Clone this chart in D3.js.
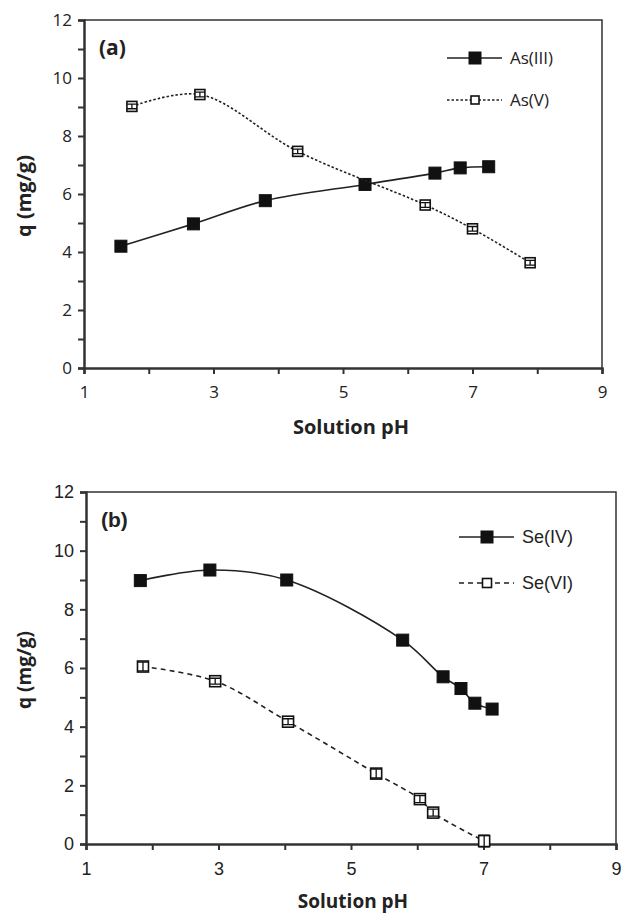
<!DOCTYPE html>
<html>
<head>
<meta charset="utf-8">
<script src="https://cdn.jsdelivr.net/npm/d3@7"></script>
<style>
  body { margin: 0; background: #fff; }
  svg { display: block; }
</style>
</head>
<body>
<div id="chart"></div>
<script>
// Panel (a) - arsenic
const phAs3 = [1.57, 2.69, 3.80, 5.34, 6.42, 6.81, 7.25];
const qAs3 = [4.20, 4.97, 5.77, 6.33, 6.72, 6.90, 6.94];
const phAs5 = [1.74, 2.79, 4.30, 6.27, 7.00, 7.89];
const qAs5 = [9.02, 9.43, 7.47, 5.62, 4.80, 3.63];
const errAs5 = [0.08, 0.08, 0.08, 0.08, 0.08, 0.08];

// Panel (b) - selenium
const phSe4 = [1.82, 2.87, 4.03, 5.78, 6.39, 6.66, 6.87, 7.13];
const qSe4 = [8.98, 9.34, 9.00, 6.95, 5.70, 5.30, 4.80, 4.60];
const phSe6 = [1.86, 2.95, 4.05, 5.38, 6.04, 6.24, 7.01];
const qSe6 = [6.05, 5.55, 4.17, 2.40, 1.53, 1.07, 0.10];
const errSe6 = [0.15, 0.10, 0.10, 0.15, 0.12, 0.12, 0.20];

const xTicks = [1, 2, 3, 4, 5, 6, 7, 8, 9];
const yTicks = [0, 1, 2, 3, 4, 5, 6, 7, 8, 9, 10, 11, 12];

const svg = d3.select('#chart').append('svg')
  .attr('width', 622)
  .attr('height', 916);

const panels = [
  {
    label: '(a)', top: 20, bottom: 368, left: 84, right: 602,
    font: '"Open Sans", "Noto Sans", sans-serif', tickSize: 17,
    xTitleX: 351, xTitleY: 434, yTitleY: 196, titleSize: 20,
    series: [
      { name: 'As(III)', x: phAs3, y: qAs3, filled: true, dash: null, size: 12 },
      { name: 'As(V)', x: phAs5, y: qAs5, err: errAs5, filled: false, dash: '2.5,2', size: 10 }
    ],
    legendX: 447, legendY: [58, 100]
  },
  {
    label: '(b)', top: 492, bottom: 844, left: 86, right: 616,
    font: '"Liberation Sans", Arial, sans-serif', tickSize: 18,
    xTitleX: 353, xTitleY: 908, yTitleY: 670, titleSize: 19,
    series: [
      { name: 'Se(IV)', x: phSe4, y: qSe4, filled: true, dash: null, size: 12 },
      { name: 'Se(VI)', x: phSe6, y: qSe6, err: errSe6, filled: false, dash: '5,4', size: 11 }
    ],
    legendX: 459, legendY: [537, 583]
  }
];

panels.forEach(p => {
  const g = svg.append('g');

  const x = d3.scaleLinear().domain([1, 9]).range([p.left, p.right]);
  const y = d3.scaleLinear().domain([0, 12]).range([p.bottom, p.top]);

  // frame (top + right)
  g.append('path')
    .attr('d', `M${p.left},${p.top}H${p.right}V${p.bottom}`)
    .attr('fill', 'none')
    .attr('stroke', '#333')
    .attr('stroke-width', 1.5);

  // axes
  const yAxis = g.append('g')
    .attr('transform', `translate(${p.left},0)`)
    .call(d3.axisLeft(y).tickValues(yTicks).tickSizeOuter(0).tickSize(6).tickPadding(6)
      .tickFormat(d => d % 2 === 0 ? d : ''));
  const xAxis = g.append('g')
    .attr('transform', `translate(0,${p.bottom})`)
    .call(d3.axisBottom(x).tickValues(xTicks).tickSizeOuter(0).tickSize(6).tickPadding(12)
      .tickFormat(d => d % 2 === 1 ? d : ''));

  [yAxis, xAxis].forEach(ax => {
    ax.select('.domain').attr('stroke', '#333').attr('stroke-width', 2.5);
    ax.selectAll('.tick line').attr('stroke', '#333').attr('stroke-width', 2);
    ax.selectAll('.tick text')
      .attr('fill', '#222')
      .style('font-family', p.font)
      .style('font-size', p.tickSize + 'px');
  });

  // axis titles
  g.append('text')
    .attr('transform', `translate(31,${p.yTitleY}) rotate(-90)`)
    .attr('text-anchor', 'middle')
    .style('font-family', '"Open Sans", sans-serif')
    .style('font-weight', 'bold')
    .style('font-size', p.titleSize + 'px')
    .attr('fill', '#222')
    .text('q (mg/g)');

  g.append('text')
    .attr('x', p.xTitleX)
    .attr('y', p.xTitleY)
    .attr('text-anchor', 'middle')
    .style('font-family', '"Open Sans", sans-serif')
    .style('font-weight', 'bold')
    .style('font-size', p.titleSize + 'px')
    .attr('fill', '#222')
    .text('Solution pH');

  // panel label
  g.append('text')
    .attr('x', p.left + 15)
    .attr('y', p.top + 35)
    .style('font-family', p.font)
    .style('font-weight', 'bold')
    .style('font-size', '21px')
    .attr('fill', '#222')
    .text(p.label);

  const line = d3.line()
    .x(d => x(d[0]))
    .y(d => y(d[1]))
    .curve(d3.curveCatmullRom.alpha(0.5));

  p.series.forEach((s, si) => {
    const pts = s.x.map((v, i) => [v, s.y[i]]);

    g.append('path')
      .datum(pts)
      .attr('fill', 'none')
      .attr('stroke', '#222')
      .attr('stroke-width', 1.6)
      .attr('stroke-dasharray', s.dash)
      .attr('d', line);

    const h = s.size / 2;
    g.selectAll(null)
      .data(pts)
      .enter()
      .append('rect')
      .attr('x', d => x(d[0]) - h)
      .attr('y', d => y(d[1]) - h)
      .attr('width', s.size)
      .attr('height', s.size)
      .attr('fill', s.filled ? '#111' : '#fff')
      .attr('stroke', '#111')
      .attr('stroke-width', s.filled ? 1 : 1.6);

    // error bars
    if (s.err) {
      pts.forEach((d, i) => {
        const cx = x(d[0]);
        const y0 = y(d[1] - s.err[i]);
        const y1 = y(d[1] + s.err[i]);
        g.append('path')
          .attr('d', `M${cx},${y0}V${y1}M${cx - h},${y0}H${cx + h}M${cx - h},${y1}H${cx + h}`)
          .attr('fill', 'none')
          .attr('stroke', '#111')
          .attr('stroke-width', 1.3);
      });
    }

    // legend
    const ly = p.legendY[si];
    const lx = p.legendX;
    g.append('line')
      .attr('x1', lx).attr('x2', lx + 55)
      .attr('y1', ly).attr('y2', ly)
      .attr('stroke', '#222')
      .attr('stroke-width', 1.6)
      .attr('stroke-dasharray', s.dash);
    g.append('rect')
      .attr('x', lx + 28 - h + (s.filled ? 0 : 1))
      .attr('y', ly - h + (s.filled ? 0 : 1))
      .attr('width', s.filled ? s.size : s.size - 2)
      .attr('height', s.filled ? s.size : s.size - 2)
      .attr('fill', s.filled ? '#111' : '#fff')
      .attr('stroke', '#111')
      .attr('stroke-width', s.filled ? 1 : 1.6);
    g.append('text')
      .attr('x', lx + 63)
      .attr('y', ly + 6)
      .style('font-family', p.font)
      .style('font-size', p.tickSize + 'px')
      .attr('fill', '#222')
      .text(s.name);
  });
});
</script>
</body>
</html>
